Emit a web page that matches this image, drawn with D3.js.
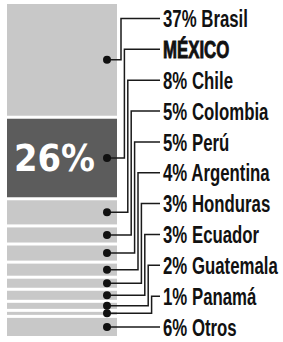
<!DOCTYPE html>
<html>
<head>
  <meta charset="utf-8">
  <script src="https://d3js.org/d3.v7.min.js"></script>
  <style>
    body { margin: 0; background: #fff; }
    text { font-family: "Liberation Sans", Arial, sans-serif; }
  </style>
</head>
<body>
  <script>
    // share of each country, top to bottom
    var countries = ["Brasil", "México", "Chile", "Colombia", "Perú", "Argentina",
                     "Honduras", "Ecuador", "Guatemala", "Panamá", "Otros"];
    var shares = [37, 26, 8, 5, 5, 4, 3, 3, 2, 1, 6];
    var highlight = "México";

    var width = 283, height = 342,
        barLeft = 7, barRight = 117, barTop = 4, gap = 3;

    var svg = d3.select("body").append("svg")
        .attr("width", width)
        .attr("height", height);

    // cumulative start of each block
    var rows = [], acc = 0;
    countries.forEach(function (c, i) {
      rows.push({name: c, value: shares[i], start: acc, i: i});
      acc += shares[i];
    });

    var y = d3.scaleLinear().domain([0, 100]).range([0, 302]);
    var labelY = d3.scalePoint().domain(countries).range([18.5, 327]);

    rows.forEach(function (d) {
      d.y0 = barTop + y(d.start) + d.i * gap;
      d.y1 = barTop + y(d.start + d.value) + d.i * gap;
      d.cy = (d.y0 + d.y1) / 2;
    });

    // blocks
    svg.selectAll("rect.block")
      .data(rows)
      .enter().append("rect")
        .attr("class", "block")
        .attr("x", barLeft)
        .attr("width", barRight - barLeft)
        .attr("y", function (d) { return d.y0; })
        .attr("height", function (d) { return d.y1 - d.y0; })
        .attr("fill", function (d) { return d.name == highlight ? "#5c5c5c" : "#c8c8c8"; });

    // big number in the highlighted block
    var hl = rows.filter(function (d) { return d.name == highlight; })[0];
    svg.append("text")
      .attr("x", 14)
      .attr("y", hl.cy)
      .attr("dy", "0.36em")
      .attr("fill", "#fff")
      .style("font-family", "'DejaVu Sans', sans-serif")
      .style("font-weight", "bold")
      .style("font-size", "37px")
      .attr("textLength", 81)
      .attr("lengthAdjust", "spacingAndGlyphs")
      .text(hl.value + "%");

    // leader lines: dot -> elbow -> label
    var dotX = 107, textX = 163;
    svg.selectAll("path.leader")
      .data(rows)
      .enter().append("path")
        .attr("class", "leader")
        .attr("fill", "none")
        .attr("stroke", "#1a1a1a")
        .attr("stroke-width", 1.5)
        .attr("d", function (d) {
          var ly = labelY(d.name);
          if (d.i == rows.length - 1) return "M" + dotX + "," + d.cy + "H" + (textX - 3);
          var ex = 121 + d.i * 3.4;
          return "M" + dotX + "," + d.cy + "H" + ex + "V" + ly + "H" + (textX - 3);
        });

    svg.selectAll("circle.dot")
      .data(rows)
      .enter().append("circle")
        .attr("class", "dot")
        .attr("cx", dotX)
        .attr("cy", function (d) { return d.cy; })
        .attr("r", 4)
        .attr("fill", "#111");

    // condensed labels: squeeze horizontally
    svg.selectAll("text.label")
      .data(rows)
      .enter().append("text")
        .attr("class", "label")
        .attr("transform", function (d) {
          return "translate(" + textX + "," + labelY(d.name) + ") scale(0.7,1)";
        })
        .attr("dy", "0.36em")
        .attr("fill", "#111")
        .attr("stroke", function (d) { return d.name == highlight ? "#111" : "none"; })
        .attr("stroke-width", 0.9)
        .style("font-size", "24px")
        .style("font-weight", "bold")
        .text(function (d) {
          return d.name == highlight ? d.name.toUpperCase() : d.value + "% " + d.name;
        });
  </script>
</body>
</html>
